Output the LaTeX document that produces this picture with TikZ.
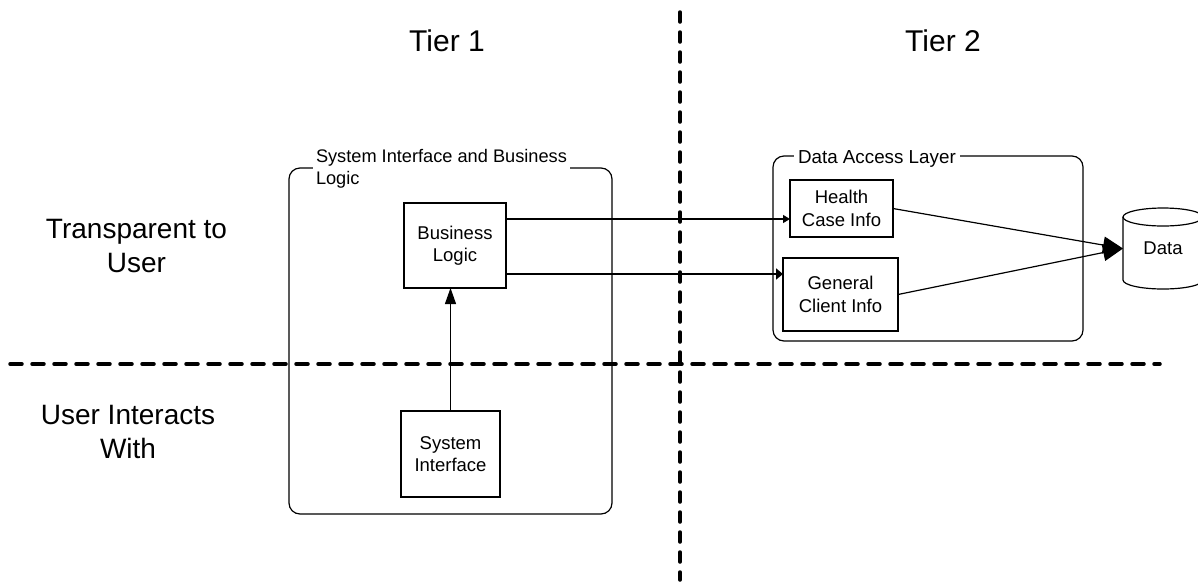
\documentclass[tikz,border=0pt]{standalone}
\usepackage{fontspec}
\setmainfont{Liberation Sans}
\usetikzlibrary{arrows.meta,calc}
\tikzset{
  x=1pt,y=1pt,
  every node/.style={inner sep=0pt,outer sep=0pt},
  divider/.style={line width=3.5pt,line cap=round},
  frame/.style={draw,line width=1.2pt,rounded corners=11pt},
  boxnode/.style={draw,line width=1.2pt,align=center,font=\fontsize{18.5}{22.5}\selectfont},
  bigtext/.style={align=center,font=\fontsize{28}{34}\selectfont},
  tiertext/.style={font=\fontsize{30}{34}\selectfont},
  framelabel/.style={fill=white,inner xsep=3pt,align=left,font=\fontsize{18.2}{22}\selectfont},
  thinarrow/.style={line width=1.2pt,-{Triangle[length=7pt,width=8pt]}},
  thickarrow/.style={line width=2.4pt,-{Triangle[length=7pt,width=11pt]}},
  uparrow/.style={line width=1.2pt,-{Triangle[length=16pt,width=11pt]}},
  dataarrow/.style={line width=1.2pt,-{Triangle[length=20pt,width=17pt]}},
}
\begin{document}
\begin{tikzpicture}
\useasboundingbox (0,0) rectangle (1198,-587);
\fill[white] (0,0) rectangle (1198,-587);

% dividers
\draw[divider,dash pattern=on 10pt off 10pt] (680,-12) -- (680,-580);
\draw[divider,dash pattern=on 12pt off 10pt] (10,-364) -- (1160,-364);

% headings
\node[tiertext,anchor=base] (t1) at (447,-51) {Tier 1};
\node[tiertext,anchor=base] (t2) at (943,-51) {Tier 2};
\node[bigtext] (trans) at (136.5,-246) {Transparent to\\User};
\node[bigtext] (inter) at (128,-432) {User Interacts\\With};

% frame 1
\draw[frame] (289,-168) rectangle (612,-514);
\node[framelabel,anchor=north west] (f1lab) at (313,-149) {System Interface and Business\\Logic};

% frame 2
\draw[frame] (773,-156) rectangle (1083,-341);
\node[framelabel,anchor=base west,inner xsep=4pt,font=\fontsize{18.8}{22}\selectfont] (f2lab) at (794,-163) {Data Access Layer};

% boxes
\node[boxnode,minimum width=102pt,minimum height=85pt] (bl) at (455,-245.5) {Business\\Logic};
\node[boxnode,minimum width=99pt,minimum height=86pt] (si) at (450.5,-454) {System\\Interface};
\node[boxnode,minimum width=103pt,minimum height=57pt] (hc) at (841.5,-208.5) {Health\\Case Info};
\node[boxnode,minimum width=115pt,minimum height=73pt] (gc) at (840.5,-294.5) {General\\Client Info};

% data cylinder
\node[minimum width=80pt,minimum height=81pt,font=\fontsize{18.5}{22}\selectfont] (data) at (1163,-248.5) {Data};
\draw[line width=1.2pt] (1123,-217) -- (1123,-280) arc[start angle=180,end angle=360,x radius=40pt,y radius=9pt] -- (1203,-217);
\draw[line width=1.2pt] (1163,-217) ellipse[x radius=40pt,y radius=9pt];

% connectors
\coordinate (p1) at ([yshift=-10.5pt]hc.west);
\coordinate (p2) at ([yshift=20.5pt]gc.west);
\draw[thinarrow] (bl.east |- p1) -- (p1);
\draw[thickarrow] (bl.east |- p2) -- (p2);
\draw[uparrow] (si.north) -- (si.north |- bl.south);
\draw[dataarrow] (hc.east) -- (data.west);
\draw[dataarrow] (gc.east) -- (data.west);
\end{tikzpicture}
\end{document}
